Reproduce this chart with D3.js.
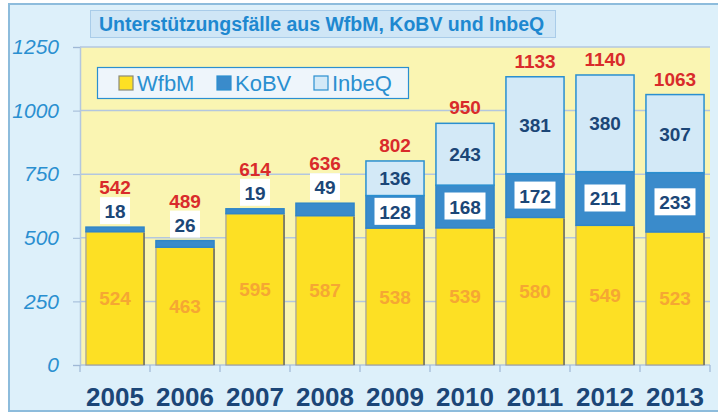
<!DOCTYPE html>
<html>
<head>
<meta charset="utf-8">
<script src="https://cdn.jsdelivr.net/npm/d3@7"></script>
<style>
  body { margin: 0; background: #fff; }
  svg { display: block; font-family: "Liberation Sans", Arial, sans-serif; }
</style>
</head>
<body>
<svg id="chart"></svg>
<script>
var years = ["2005", "2006", "2007", "2008", "2009", "2010", "2011", "2012", "2013"];
var wfbm  = [524, 463, 595, 587, 538, 539, 580, 549, 523];
var kobv  = [18, 26, 19, 49, 128, 168, 172, 211, 233];
var inbeq = [0, 0, 0, 0, 136, 243, 381, 380, 307];
var totals = [542, 489, 614, 636, 802, 950, 1133, 1140, 1063];
var yTicks = [0, 250, 500, 750, 1000, 1250];
var seriesNames = ["WfbM", "KoBV", "InbeQ"];

var width = 718, height = 414;
var margin = {top: 47, right: 8, bottom: 49, left: 80};

var svg = d3.select("#chart")
  .attr("width", width)
  .attr("height", height);

// outer frame
svg.append("rect")
  .attr("x", 9).attr("y", 4)
  .attr("width", 720).attr("height", 407)
  .attr("fill", "#ddf0fa")
  .attr("stroke", "#8dbcdc")
  .attr("stroke-width", 2);

var x = d3.scaleBand()
  .domain(years)
  .range([margin.left, width - margin.right])
  .paddingInner(0.17)
  .paddingOuter(0.085);

var y = d3.scaleLinear()
  .domain([0, 1250])
  .range([height - margin.bottom, margin.top]);

// plot background
svg.append("rect")
  .attr("x", margin.left).attr("y", y(1250))
  .attr("width", width - margin.right - margin.left)
  .attr("height", y(0) - y(1250))
  .attr("fill", "#faf5b2");

// gridlines + y axis
var yAxis = g => g
  .attr("transform", `translate(${margin.left},0)`)
  .call(d3.axisLeft(y).tickValues(yTicks).tickFormat(d3.format("d")).tickSize(7).tickPadding(14))
  .call(g => g.select(".domain").attr("stroke", "#b3c7df").attr("stroke-width", 1.5))
  .call(g => g.selectAll(".tick line").attr("stroke", "#9fb8d6"))
  .call(g => g.selectAll(".tick text")
      .attr("fill", "#2a8fd0")
      .style("font-size", "21px")
      .style("font-style", "italic"));

svg.append("g")
  .selectAll("line")
  .data(yTicks)
  .join("line")
    .attr("x1", margin.left)
    .attr("x2", width - margin.right)
    .attr("y1", d => y(d))
    .attr("y2", d => y(d))
    .attr("stroke", "#b3c7df")
    .attr("stroke-width", 1.5);

svg.append("g").call(yAxis);

// category ticks under axis
svg.append("g")
  .selectAll("line")
  .data(years.concat(["end"]))
  .join("line")
    .attr("x1", (d, i) => margin.left + i * x.step())
    .attr("x2", (d, i) => margin.left + i * x.step())
    .attr("y1", y(0))
    .attr("y2", y(0) + 7)
    .attr("stroke", "#9fb8d6")
    .attr("stroke-width", 1.2);

// x labels
svg.append("g")
  .selectAll("text")
  .data(years)
  .join("text")
    .attr("x", d => x(d) + x.bandwidth() / 2)
    .attr("y", 406)
    .attr("text-anchor", "middle")
    .attr("fill", "#1b4677")
    .style("font-size", "26px")
    .style("font-weight", "bold")
    .text(d => d);

// stacked bars
var rows = years.map((d, i) => ({year: d, WfbM: wfbm[i], KoBV: kobv[i], InbeQ: inbeq[i]}));
var stack = d3.stack().keys(seriesNames)(rows);
var fills = {WfbM: "#fde024", KoBV: "#3a8bcb", InbeQ: "#d3e9f7"};
var strokes = {WfbM: "#a0a0a0", KoBV: "#2f86c8", InbeQ: "#2a8fd0"};

stack.forEach(function(layer) {
  svg.append("g")
    .selectAll("rect")
    .data(layer.filter(d => d[1] > d[0]))
    .join("rect")
      .attr("x", d => x(d.data.year))
      .attr("y", d => y(d[1]))
      .attr("width", x.bandwidth())
      .attr("height", d => y(d[0]) - y(d[1]))
      .attr("fill", fills[layer.key])
      .attr("stroke", strokes[layer.key])
      .attr("stroke-width", layer.key == "WfbM" ? 1.2 : 1.5);
});

// shadow on right edge of yellow bars
svg.append("g")
  .selectAll("line")
  .data(stack[0])
  .join("line")
    .attr("x1", d => x(d.data.year) + x.bandwidth())
    .attr("x2", d => x(d.data.year) + x.bandwidth())
    .attr("y1", d => y(d[1]) + 1)
    .attr("y2", d => y(d[0]))
    .attr("stroke", "#6f6f5a")
    .attr("stroke-width", 1.5);

var cx = d => x(d) + x.bandwidth() / 2;

// WfbM labels
svg.append("g")
  .selectAll("text")
  .data(years)
  .join("text")
    .attr("x", d => cx(d))
    .attr("y", (d, i) => y(wfbm[i] / 2) + 7)
    .attr("text-anchor", "middle")
    .attr("fill", "#f5a733")
    .style("font-size", "19px")
    .style("font-weight", "bold")
    .text((d, i) => wfbm[i]);

// InbeQ labels
svg.append("g")
  .selectAll("text")
  .data(years.filter((d, i) => inbeq[i] > 0))
  .join("text")
    .attr("x", d => cx(d))
    .attr("y", d => { var i = years.indexOf(d); return y(wfbm[i] + kobv[i] + inbeq[i] / 2) + 7; })
    .attr("text-anchor", "middle")
    .attr("fill", "#1b4677")
    .style("font-size", "19px")
    .style("font-weight", "bold")
    .text(d => inbeq[years.indexOf(d)]);

// KoBV label position: centered in segment when big enough, else above it
function kobvBaseline(i) {
  if (kobv[i] > 60) return y(wfbm[i] + kobv[i] / 2) + 7;
  return y(wfbm[i] + kobv[i]) - 9;
}

// totals (drawn before KoBV boxes, which may overlap them)
svg.append("g")
  .selectAll("text")
  .data(years)
  .join("text")
    .attr("x", d => cx(d))
    .attr("y", (d, i) => inbeq[i] > 0 ? y(totals[i]) - 9 : y(totals[i]) - 33)
    .attr("text-anchor", "middle")
    .attr("fill", "#d92b2b")
    .style("font-size", "19px")
    .style("font-weight", "bold")
    .text((d, i) => totals[i]);

// KoBV labels with white boxes
var kg = svg.append("g")
  .selectAll("g")
  .data(years)
  .join("g");

kg.append("rect")
  .attr("x", (d, i) => cx(d) - (String(kobv[i]).length * 11 + 8) / 2)
  .attr("y", (d, i) => kobvBaseline(i) - 21)
  .attr("width", (d, i) => String(kobv[i]).length * 11 + 8)
  .attr("height", 27)
  .attr("fill", "#fff");

kg.append("text")
  .attr("x", d => cx(d))
  .attr("y", (d, i) => kobvBaseline(i))
  .attr("text-anchor", "middle")
  .attr("fill", "#1b4677")
  .style("font-size", "19px")
  .style("font-weight", "bold")
  .text((d, i) => kobv[i]);

// title
svg.append("rect")
  .attr("x", 90.5).attr("y", 10.5)
  .attr("width", 465).attr("height", 27)
  .attr("fill", "#cfe6f6")
  .attr("stroke", "#a9cce9");

svg.append("text")
  .attr("x", 99)
  .attr("y", 31)
  .attr("fill", "#1e88d0")
  .style("font-size", "19.5px")
  .style("font-weight", "bold")
  .text("Unterstützungsfälle aus WfbM, KoBV und InbeQ");

// legend
var legend = svg.append("g");
legend.append("rect")
  .attr("x", 97.5).attr("y", 67.5)
  .attr("width", 311).attr("height", 31)
  .attr("fill", "#eef5fb")
  .attr("stroke", "#2a8fd0")
  .attr("stroke-width", 1.2);

var legendX = [119, 217, 314];
var items = legend.selectAll("g")
  .data(seriesNames)
  .join("g")
  .attr("transform", (d, i) => `translate(${legendX[i]},76)`);

items.append("rect")
  .attr("width", 14).attr("height", 14)
  .attr("fill", d => fills[d])
  .attr("stroke", d => d == "WfbM" ? "#8a8a7a" : "#2a8fd0")
  .attr("stroke-width", 1.2);

items.append("text")
  .attr("x", 18)
  .attr("y", 15)
  .attr("fill", "#2a8fd0")
  .style("font-size", "22px")
  .text(d => d);
</script>
</body>
</html>
